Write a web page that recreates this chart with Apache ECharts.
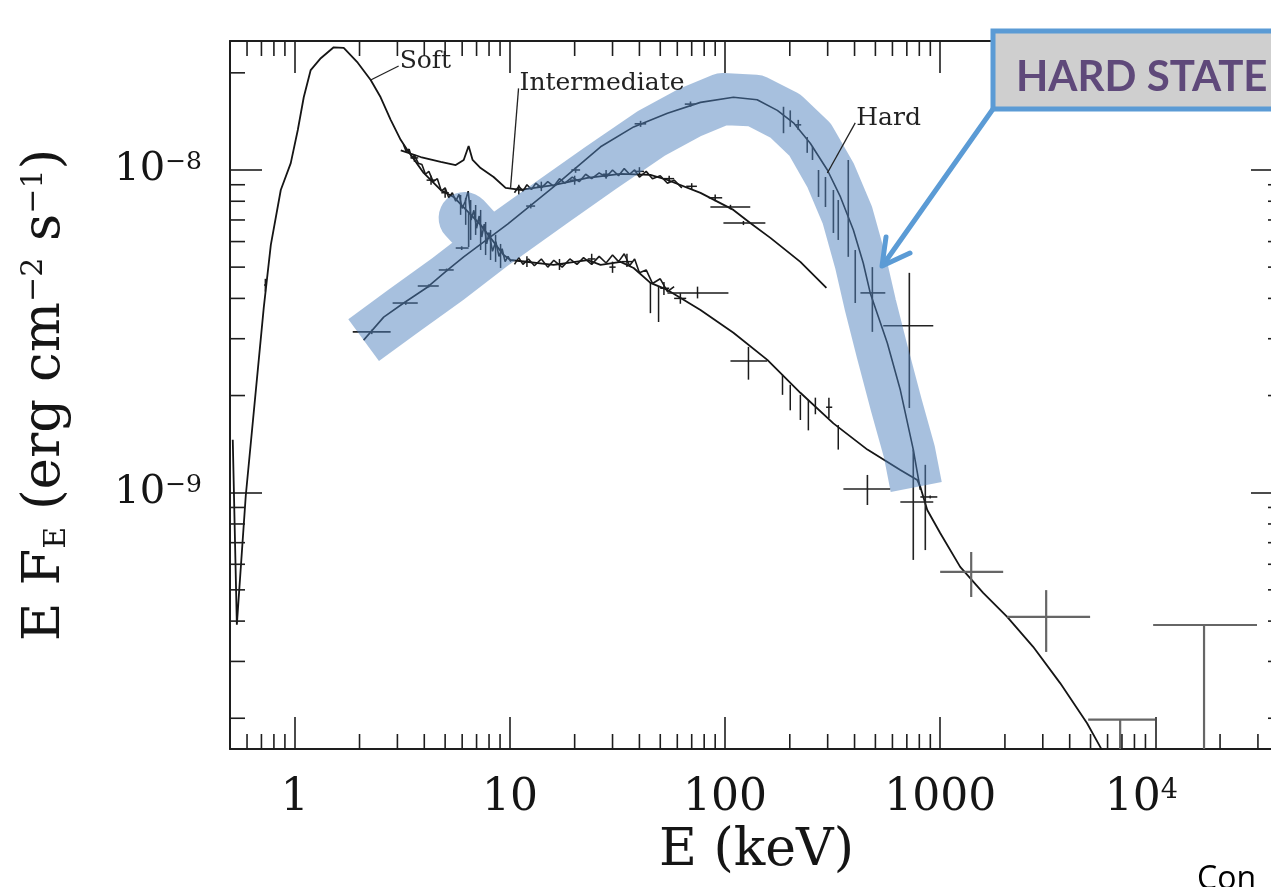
<!DOCTYPE html>
<html><head><meta charset="utf-8">
<script src="https://cdn.jsdelivr.net/npm/echarts@6/dist/echarts.min.js"></script>
<style>html,body{margin:0;padding:0;background:#fff;overflow:hidden;}#c{width:1283px;height:887px;}</style>
</head><body><div id="c"></div>
<script>
// Energy E in keV ; flux E*F_E in units of 1e-9 erg cm^-2 s^-1
const softE = [0.515,0.538,0.592,0.718,0.774,0.861,0.958,1.033,1.101,1.186,1.321,1.517,1.689,1.962,2.254,2.507,2.792,3.106,3.348,3.974,4.766,5.476,7.31,9.35,10.07,15.96,22.96,26.4,32.7,37.6,45.0,54.0,76.9,109.4,157.3,224,319,459,653,783,809,871,1000,1239,1585,2049,2706,3612,4819,5545,6503];
const softF = [1.46,0.39,0.98,3.76,5.86,8.67,10.5,13.3,16.8,20.4,22.2,24.0,23.9,21.5,19.0,16.8,14.3,12.4,11.5,9.79,8.67,8.25,6.76,5.45,5.26,5.08,5.26,5.08,5.19,4.97,4.47,4.25,3.68,3.13,2.58,2.04,1.64,1.36,1.175,1.094,1.042,0.884,0.750,0.589,0.489,0.412,0.333,0.257,0.193,0.163,0.133];

const intE = [3.11,3.85,4.77,5.60,6.10,6.43,6.71,7.31,8.40,9.55,11.2,15.96,22.96,32.7,45.0,54.0,76.9,109.4,131,162.5,224,296];
const intF = [11.5,10.97,10.59,10.36,10.74,11.87,10.74,10.14,9.51,8.80,8.67,8.98,9.45,9.72,9.65,9.31,8.49,7.52,6.85,6.16,5.19,4.31];

const hardE = [2.09,2.59,3.21,4.15,5.14,6.10,9.76,15.96,26.4,37.6,54.0,76.9,109.4,141,175,208,249,299,344,395,439,473,568,653,750,809];
const hardF = [2.97,3.50,3.87,4.34,4.90,5.38,6.80,8.86,11.8,13.6,15.0,16.2,16.8,16.5,15.3,14.0,12.1,10.0,8.25,6.52,5.15,4.16,2.91,2.08,1.36,1.02];

// dense observed data (drawn as jagged traces)
const softObsE = [3.2,3.3,3.4,3.5,3.6,3.75,3.9,4.05,4.2,4.4,4.6,4.8,5.0,5.2,5.4,5.6,5.8,6.0,6.2,6.4,6.6,6.8,7.0,7.2,7.4,7.6,7.8,8.0,8.3,8.6,8.9,9.2,9.5,9.8,10.1];
const softObsF = [12.0,11.4,11.6,10.9,11.1,10.5,10.4,9.7,9.9,9.2,9.4,8.6,8.8,8.2,8.5,8.0,8.4,7.6,8.0,8.6,7.0,7.5,6.6,7.2,6.2,6.8,5.9,6.4,5.6,6.0,5.4,5.7,5.2,5.4,5.2];
const intObsE = [10.5,11,11.5,12,12.6,13.2,14,15,16,17,18,19.5,21,22.5,24,26,28,30,32,34,36,38,40,43,46,50,54,58,63];
const intObsF = [8.5,8.9,8.6,9.0,8.7,9.1,8.8,9.2,8.9,9.4,9.1,9.5,9.2,9.7,9.4,9.8,9.5,10.0,9.6,10.1,9.7,10.0,9.5,9.9,9.4,9.6,9.1,9.3,8.8];
const softObs2E = [10.5,11,11.5,12.2,13,14,15,16,17.5,19,20.5,22,24,26,28,30,32,34,36,38,40,43,46,50,54,58];
const softObs2F = [5.1,5.35,5.1,5.3,5.05,5.3,5.0,5.25,5.0,5.3,5.1,5.35,5.1,5.4,5.15,5.45,5.2,5.5,5.05,5.3,4.8,4.9,4.45,4.6,4.2,4.35];

// highlight band (hand-drawn in the slide) following the hard state
const bandE = [2.09,3.21,5.14,8.13,6.16,8.13,15.96,26.4,45.0,69.1,97.2,138.4,190.8,249,308.8,370,426,473.5,538,625,719,774];
const bandF = [2.97,3.66,4.59,5.81,7.10,5.81,8.01,10.14,12.93,15.1,16.6,16.4,14.7,12.4,9.65,7.26,5.19,3.82,2.73,1.87,1.34,1.042];

// error bars: [E, Elo, Ehi, F, Flo, Fhi]
const hardErr = [
 [2.28,1.86,2.79,3.15,3.10,3.20],[3.28,2.85,3.73,3.87,3.82,3.92],[4.19,3.73,4.67,4.37,4.32,4.42],
 [5.08,4.67,5.48,4.90,4.85,4.95],[5.97,5.60,6.43,5.73,5.65,5.80],[6.43,6.43,6.43,6.52,5.77,7.36],
 [12.5,11.9,13.1,7.73,7.6,7.86],[20.2,19.3,21.2,10.0,9.8,10.2],[40.5,38,43,13.9,13.6,14.2],[69.1,65,73,16.0,15.7,16.3],
 [187,187,187,14.3,13.0,15.7],[201,201,201,14.5,13.6,15.3],[219,212,226,13.8,13.3,14.3],
 [241,241,241,11.95,11.3,12.65],[255,255,255,11.3,10.74,11.8],[272,272,272,9.11,8.25,10.0],
 [293,293,293,8.55,7.68,9.51],[319,319,319,7.41,6.38,8.67],[336,336,336,7.0,6.07,8.07],
 [374,374,374,7.79,5.38,10.74],[403,403,403,4.73,3.87,5.65],[484,426,556,4.16,3.15,5.00],
 [719,544,929,3.29,1.83,4.80],[459,355,586,1.027,0.916,1.135],[750,653,929,0.936,0.619,1.36],
 [853,853,853,1.02,0.664,1.22],[899,809,970,0.970,0.96,0.98]
];
const softErr = [
 [0.73,0.72,0.74,4.4,4.2,4.6],[3.6,3.45,3.75,10.9,10.6,11.2],[4.3,4.1,4.5,9.3,9.0,9.6],[5.0,4.8,5.2,8.5,8.2,8.8],
 [5.90,5.90,5.90,7.8,7.26,8.37],[6.23,6.23,6.23,7.4,6.76,8.19],[6.57,6.57,6.57,7.0,6.07,8.07],
 [6.93,6.93,6.93,6.9,6.29,7.79],[7.31,7.31,7.31,6.5,5.65,7.52],[7.71,7.71,7.71,6.3,5.45,6.90],
 [8.13,8.13,8.13,6.0,5.26,6.52],[8.58,8.58,8.58,5.6,5.19,6.3],[9.05,9.05,9.05,5.3,4.97,5.9],
 [12,11.5,12.5,5.2,5.0,5.4],[17,16.3,17.7,5.1,4.9,5.3],[24,23,25,5.3,5.1,5.5],[30,29,31,5.0,4.8,5.2],
 [35,33,37,5.2,5.0,5.5],[45.0,45.0,45.0,4.3,3.6,4.47],[49.1,49.1,49.1,4.2,3.38,4.36],[52,50,55,4.3,4.1,4.5],[62,58,66,4.0,3.85,4.15],
 [74.5,54.0,103.7,4.16,4.0,4.35],[128.5,106,157,2.56,2.24,2.83],
 [185,185,185,2.16,2.01,2.32],[201,201,201,2.01,1.80,2.16],[224,224,224,1.87,1.68,2.01],
 [244,244,244,1.80,1.56,1.94],[263,263,263,1.87,1.75,1.97],[304,295,315,1.84,1.70,1.97],[336,336,336,1.51,1.36,1.62]
];
const softHiErr = [
 [1394,1000,1963,0.568,0.475,0.655],[3110,2049,4977,0.412,0.321,0.499],
 [16850,9772,29700,0.389,0.1606,0.389],[6866,4875,9977,0.198,0.1606,0.198]
];
const intErr = [
 [11,10.6,11.4,8.7,8.4,9.0],[14,13.4,14.6,8.9,8.6,9.2],[20,19,21,9.3,9.0,9.6],[28,27,29,9.7,9.4,10.0],
 [40,38,42,9.9,9.6,10.2],[55,52,58,9.4,9.2,9.6],[70,66,74,8.9,8.7,9.1],[90,84,97,8.2,8.0,8.4],
 [106,85.5,131,7.68,7.55,7.8],[121.8,98.3,154,6.85,6.75,6.95]
];

// axes
const xMin = 0.5, xMax = 39230, yMin = 0.1606, yMax = 25.1;
const xMinorTicks = [0.6,0.7,0.8,0.9,2,3,4,5,6,7,8,9,20,30,40,50,60,70,80,90,200,300,400,500,600,700,800,900,2000,3000,4000,5000,6000,7000,8000,9000,20000,30000];
const yMinorTicks = [0.2,0.3,0.4,0.5,0.6,0.7,0.8,0.9,2,3,4,5,6,7,8,9,20];
const xTickLabels = ['1','10','100','1000','{b|10}{s4|4}'];          // exponents 0..4
const yTickLabels = {0:'{b|10}{s|−9}', 1:'{b|10}{s|−8}'};           // in units of 1e-9
const annLabels = [
  {text:'Soft', from:[2.254,19.0], to:[3.04,21.0]},
  {text:'Intermediate', from:[10.07,8.80], to:[10.97,17.9]},
  {text:'Hard', from:[299,9.79], to:[403,14.0]}
];

const serif = 'DejaVu Serif';
const frame = '#1e1e1e';
const ink = '#151515';
function zip(a,b){return a.map((v,i)=>[v,b[i]]);}
function expOf(v){const l=Math.log10(v);const e=Math.round(l);return Math.abs(l-e)<0.01?e:null;}

const chart = echarts.init(document.getElementById('c'), null, {renderer:'canvas'});

function errSeries(data, color, width){
  return {type:'custom', coordinateSystem:'cartesian2d', silent:true, z:3,
    encode:{x:0,y:3}, data:data, clip:true,
    renderItem(params, api){
      const E=api.value(0),Elo=api.value(1),Ehi=api.value(2),F=api.value(3),Flo=api.value(4),Fhi=api.value(5);
      const a=api.coord([Elo,F]),b=api.coord([Ehi,F]),c=api.coord([E,Flo]),d=api.coord([E,Fhi]);
      return {type:'group',children:[
        {type:'line',shape:{x1:a[0],y1:a[1],x2:b[0],y2:b[1]},style:{stroke:color,lineWidth:width}},
        {type:'line',shape:{x1:c[0],y1:c[1],x2:d[0],y2:d[1]},style:{stroke:color,lineWidth:width}}
      ]};
    }};
}
function curve(E,F,w,c){
  return {type:'line', data:zip(E,F), symbol:'none', smooth:false, z:2, silent:true,
    lineStyle:{color:c||ink,width:w}};
}

const rich = {
  b:{fontFamily:serif,fontSize:44,color:ink},
  s4:{fontFamily:serif,fontSize:27,color:ink,verticalAlign:'top',padding:[0,28,0,0]}
};
const yRich = {
  b:{fontFamily:serif,fontSize:40,color:ink},
  s:{fontFamily:serif,fontSize:25,color:ink,verticalAlign:'top'}
};

const option = {
  animation:false,
  backgroundColor:'#fff',
  grid:{left:230, top:41, right:0, bottom:138, containLabel:false},
  xAxis:[
    {type:'log', logBase:10, min:xMin, max:xMax, position:'bottom', gridIndex:0,
     axisLine:{show:true,onZero:false,lineStyle:{color:frame,width:2}},
     axisTick:{show:true,inside:true,length:32,lineStyle:{color:frame,width:1.6}},
     minorTick:{show:false}, splitLine:{show:false},
     axisLabel:{show:true,margin:28,showMinLabel:false,showMaxLabel:false,
       fontFamily:serif,fontSize:44,color:ink,rich:rich,
       formatter:v=>{const e=expOf(v);return (e!==null&&e>=0&&e<xTickLabels.length)?xTickLabels[e]:'';}},
     name:'E (keV)', nameLocation:'middle', nameGap:60,
     nameTextStyle:{fontFamily:serif,fontSize:52,color:ink}},
    {type:'log', logBase:10, min:xMin, max:xMax, position:'top', gridIndex:0,
     axisLine:{show:true,onZero:false,lineStyle:{color:frame,width:2}},
     axisTick:{show:true,inside:true,length:32,lineStyle:{color:frame,width:1.6}},
     axisLabel:{show:false}, splitLine:{show:false}}
  ],
  yAxis:[
    {type:'log', logBase:10, min:yMin, max:yMax, position:'left', gridIndex:0,
     axisLine:{show:true,onZero:false,lineStyle:{color:frame,width:2}},
     axisTick:{show:true,inside:true,length:32,lineStyle:{color:frame,width:1.6}},
     splitLine:{show:false},
     axisLabel:{show:true,margin:28,showMinLabel:false,showMaxLabel:false,
       fontFamily:serif,fontSize:41,color:ink,rich:yRich,
       formatter:v=>{const e=expOf(v);return (e!==null&&yTickLabels[e])?yTickLabels[e]:'';}},
     name:'{a|E F}{sub|E}{a| (erg cm}{sup|−2}{a| s}{sup|−1}{a|)}', nameLocation:'middle', nameGap:158,
     nameTextStyle:{fontFamily:serif,fontSize:53,color:ink,rich:{
       a:{fontFamily:serif,fontSize:53,color:ink},
       sub:{fontFamily:serif,fontSize:30,color:ink,verticalAlign:'bottom'},
       sup:{fontFamily:serif,fontSize:30,color:ink,verticalAlign:'top'}}}},
    {type:'log', logBase:10, min:yMin, max:yMax, position:'right', gridIndex:0,
     axisLine:{show:true,onZero:false,lineStyle:{color:frame,width:2}},
     axisTick:{show:true,inside:true,length:32,lineStyle:{color:frame,width:1.6}},
     axisLabel:{show:false}, splitLine:{show:false}}
  ],
  series:[
    curve(softE,softF,1.8),
    curve(intE,intF,1.8),
    curve(hardE,hardF,1.6),
    curve(softObsE,softObsF,1.6,'#1a1a1a'),
    curve(intObsE,intObsF,1.6,'#1a1a1a'),
    curve(softObs2E,softObs2F,1.6,'#1a1a1a'),
    errSeries(softErr,'#1a1a1a',1.5),
    errSeries(intErr,'#1a1a1a',1.5),
    errSeries(hardErr,'#222',1.6),
    errSeries(softHiErr,'#666',2.2),
    {type:'line', data:zip(bandE,bandF), symbol:'none', smooth:false, z:6, silent:true, clip:true,
     lineStyle:{color:'#4F81BD',width:52,opacity:0.5,cap:'butt',join:'round'}},
    {type:'custom', coordinateSystem:'cartesian2d', silent:true, z:8,
     data:xMinorTicks.map(v=>[v,yMin]),
     renderItem(params, api){
       const b=api.coord([api.value(0),yMin]), t=api.coord([api.value(0),yMax]);
       return {type:'group',children:[
         {type:'line',shape:{x1:b[0],y1:b[1],x2:b[0],y2:b[1]-15},style:{stroke:frame,lineWidth:1.6}},
         {type:'line',shape:{x1:t[0],y1:t[1],x2:t[0],y2:t[1]+15},style:{stroke:frame,lineWidth:1.6}}]};
     }},
    {type:'custom', coordinateSystem:'cartesian2d', silent:true, z:8,
     data:yMinorTicks.map(v=>[xMin,v]),
     renderItem(params, api){
       const l=api.coord([xMin,api.value(1)]), r=api.coord([xMax,api.value(1)]);
       return {type:'group',children:[
         {type:'line',shape:{x1:l[0],y1:l[1],x2:l[0]+15,y2:l[1]},style:{stroke:frame,lineWidth:1.6}},
         {type:'line',shape:{x1:r[0],y1:r[1],x2:r[0]-15,y2:r[1]},style:{stroke:frame,lineWidth:1.6}}]};
     }}
  ]
};
chart.setOption(option);

// annotations (labels with leader lines, slide callout)
const g = [];
annLabels.forEach(a=>{
  const p = chart.convertToPixel({xAxisIndex:0,yAxisIndex:0}, a.from);
  const q = chart.convertToPixel({xAxisIndex:0,yAxisIndex:0}, a.to);
  g.push({type:'line', z:20, shape:{x1:p[0],y1:p[1],x2:q[0],y2:q[1]}, style:{stroke:'#222',lineWidth:1.3}});
  g.push({type:'text', z:20, x:q[0]+1, y:q[1]+8,
    style:{text:a.text, font:'25px "DejaVu Serif"', fill:'#222', align:'left', verticalAlign:'bottom', textAlign:'left', textVerticalAlign:'bottom'}});
});
g.push({type:'rect', z:30, shape:{x:993,y:31,width:320,height:78},
  style:{fill:'#cfcfcf', stroke:'#5B9BD5', lineWidth:5}});
g.push({type:'text', z:31, x:1016, y:77,
  style:{text:'HARD STATE', font:'bold 42px Lato', fill:'#5f497a', align:'left', verticalAlign:'middle', textAlign:'left', textVerticalAlign:'middle'}});
g.push({type:'polyline', z:30, shape:{points:[[993,109],[883,265]]},
  style:{stroke:'#5B9BD5', lineWidth:5, lineCap:'round', fill:null}});
g.push({type:'polyline', z:30, shape:{points:[[886,237],[882,266],[910,253]]},
  style:{stroke:'#5B9BD5', lineWidth:5, lineCap:'round', lineJoin:'round', fill:null}});
g.push({type:'text', z:30, x:1197, y:864,
  style:{text:'Con', font:'32px "Open Sans"', fill:'#000', align:'left', verticalAlign:'top', textAlign:'left', textVerticalAlign:'top'}});
chart.setOption({graphic:{elements:g}});
</script>
</body></html>
